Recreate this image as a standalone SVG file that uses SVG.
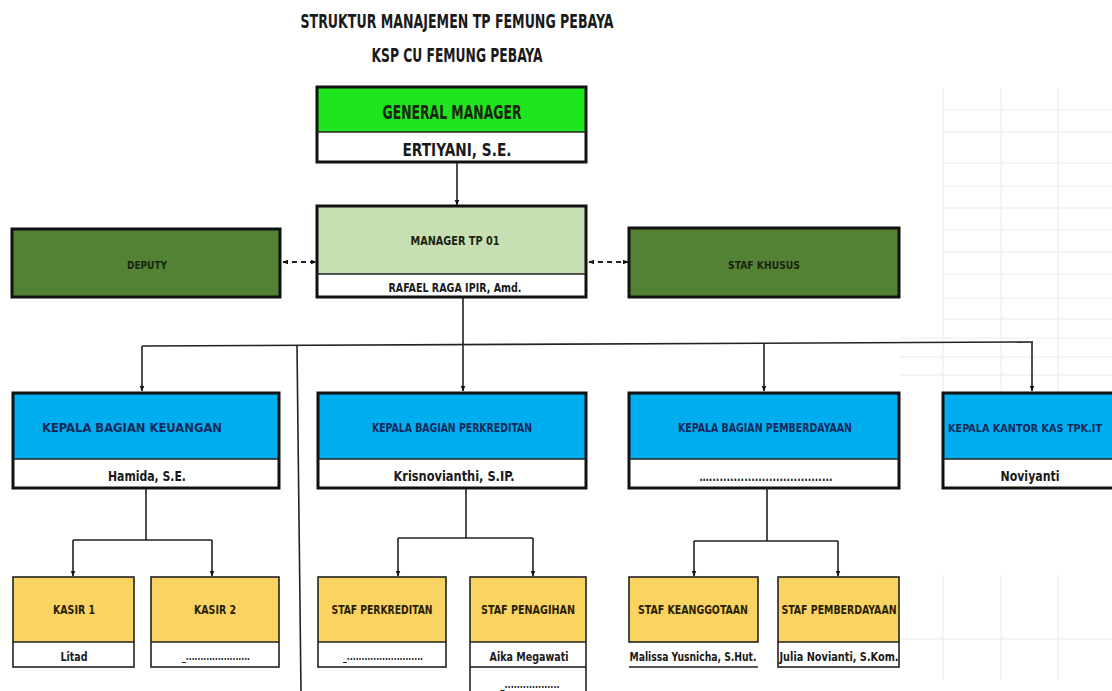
<svg xmlns="http://www.w3.org/2000/svg" width="1112" height="691" viewBox="0 0 1112 691">
<defs>
<marker id="ar" viewBox="0 0 10 10" refX="9" refY="5" markerWidth="6" markerHeight="6" orient="auto-start-reverse" markerUnits="userSpaceOnUse">
<path d="M0,1 L10,5 L0,9 z" fill="#111"/>
</marker>
<style>
text{font-family:"DejaVu Sans Condensed","Liberation Sans Narrow","Liberation Sans",sans-serif;font-weight:bold;text-anchor:middle}
.box{stroke:#111;stroke-width:3}
.thin{stroke:#222;stroke-width:1.6}
.grid{stroke:#ebebeb;stroke-width:1;fill:none}
.gm{fill:#1ee61e}
.mgr{fill:#c6e0b4}
.dg{fill:#548235}
.bl{fill:#00aeef}
.ye{fill:#f9d462}
.wh{fill:#fff}
.tg{fill:#1a2410}
.tb{fill:#14285a}
.ty{fill:#2a1e00}
.tk{fill:#1a1a1a}
.con{stroke:#222;stroke-width:1.6;fill:none}
.dash{stroke:#222;stroke-width:2;fill:none;stroke-dasharray:5 4}
</style>
</defs>
<rect width="1112" height="691" fill="#fff"/>
<g id="grid">
<path class="grid" d="M943,110H1112M943,132H1112M943,163H1112M943,186H1112M943,208H1112M943,230H1112M943,252H1112M943,274H1112M943,298H1112M943,319H1112M900,338H1112M900,357H1112M900,375H1112M943,88V400M1001,88V400M1058,88V400M900,639H1112M943,575V680M1001,575V680M1058,575V680"/>
</g>
<g id="title">
<text x="457" y="28" font-size="20" textLength="313" lengthAdjust="spacingAndGlyphs" class="tk">STRUKTUR MANAJEMEN TP FEMUNG PEBAYA</text>
<text x="457" y="62" font-size="20" textLength="171" lengthAdjust="spacingAndGlyphs" class="tk">KSP CU FEMUNG PEBAYA</text>
</g>
<g id="connectors">
<line class="con" x1="457" y1="162" x2="457" y2="205" marker-end="url(#ar)"/>
<line class="dash" x1="283" y1="262" x2="316" y2="262" marker-start="url(#ar)" marker-end="url(#ar)"/>
<line class="dash" x1="589" y1="262" x2="628" y2="262" marker-start="url(#ar)" marker-end="url(#ar)"/>
<line class="con" x1="463" y1="297" x2="463" y2="391" marker-end="url(#ar)"/>
<line class="con" x1="142" y1="346" x2="1033" y2="342"/>
<line class="con" x1="142" y1="346" x2="142" y2="391" marker-end="url(#ar)"/>
<line class="con" x1="764" y1="343" x2="764" y2="391" marker-end="url(#ar)"/>
<line class="con" x1="1032" y1="342" x2="1032" y2="391" marker-end="url(#ar)"/>
<line class="con" x1="297" y1="346" x2="301" y2="691"/>
<path class="con" d="M146,488V540M73,540H212"/>
<line class="con" x1="73" y1="540" x2="73" y2="576" marker-end="url(#ar)"/>
<line class="con" x1="212" y1="540" x2="212" y2="576" marker-end="url(#ar)"/>
<path class="con" d="M466,488V538M398,538H533"/>
<line class="con" x1="398" y1="538" x2="398" y2="576" marker-end="url(#ar)"/>
<line class="con" x1="533" y1="538" x2="533" y2="576" marker-end="url(#ar)"/>
<path class="con" d="M767,488V541M694,541H838"/>
<line class="con" x1="694" y1="541" x2="694" y2="576" marker-end="url(#ar)"/>
<line class="con" x1="838" y1="541" x2="838" y2="576" marker-end="url(#ar)"/>
</g>
<g id="general-manager">
<rect class="gm" x="317" y="87" width="269" height="45"/>
<rect class="wh" x="317" y="132" width="269" height="30"/>
<rect x="317" y="87" width="269" height="75" fill="none" class="box"/>
<line x1="317" y1="132" x2="586" y2="132" class="thin"/>
<text x="452" y="119" font-size="19" textLength="139" lengthAdjust="spacingAndGlyphs" class="tg">GENERAL MANAGER</text>
<text x="457" y="156" font-size="17" textLength="109" lengthAdjust="spacingAndGlyphs" class="tk">ERTIYANI, S.E.</text>
</g>
<g id="manager-tp01">
<rect class="mgr" x="317" y="206" width="269" height="68"/>
<rect class="wh" x="317" y="274" width="269" height="23"/>
<rect x="317" y="206" width="269" height="91" fill="none" class="box"/>
<line x1="317" y1="274" x2="586" y2="274" class="thin"/>
<text x="455" y="245" font-size="12" textLength="89" lengthAdjust="spacingAndGlyphs" class="tg">MANAGER TP 01</text>
<text x="455" y="292" font-size="12" textLength="133" lengthAdjust="spacingAndGlyphs" class="tk">RAFAEL RAGA IPIR, Amd.</text>
</g>
<g id="deputy">
<rect class="dg box" x="12" y="229" width="268" height="68"/>
<text x="147" y="269" font-size="11" textLength="40" lengthAdjust="spacingAndGlyphs" class="tg">DEPUTY</text>
</g>
<g id="staf-khusus">
<rect class="dg box" x="629" y="228" width="270" height="69"/>
<text x="764" y="269" font-size="11" textLength="72" lengthAdjust="spacingAndGlyphs" class="tg">STAF KHUSUS</text>
</g>
<g id="kabag-keuangan">
<rect class="bl" x="13" y="393" width="266" height="66"/>
<rect class="wh" x="13" y="459" width="266" height="29"/>
<rect x="13" y="393" width="266" height="95" fill="none" class="box"/>
<line x1="13" y1="459" x2="279" y2="459" class="thin"/>
<text x="132" y="432" font-size="12" textLength="180" lengthAdjust="spacingAndGlyphs" class="tb">KEPALA BAGIAN  KEUANGAN</text>
<text x="147" y="481" font-size="14" textLength="78" lengthAdjust="spacingAndGlyphs" class="tk">Hamida, S.E.</text>
</g>
<g id="kabag-perkreditan">
<rect class="bl" x="318" y="393" width="268" height="66"/>
<rect class="wh" x="318" y="459" width="268" height="29"/>
<rect x="318" y="393" width="268" height="95" fill="none" class="box"/>
<line x1="318" y1="459" x2="586" y2="459" class="thin"/>
<text x="452" y="432" font-size="12" textLength="160" lengthAdjust="spacingAndGlyphs" class="tb">KEPALA BAGIAN PERKREDITAN</text>
<text x="454" y="481" font-size="14" textLength="121" lengthAdjust="spacingAndGlyphs" class="tk">Krisnovianthi, S.IP.</text>
</g>
<g id="kabag-pemberdayaan">
<rect class="bl" x="629" y="393" width="270" height="66"/>
<rect class="wh" x="629" y="459" width="270" height="29"/>
<rect x="629" y="393" width="270" height="95" fill="none" class="box"/>
<line x1="629" y1="459" x2="899" y2="459" class="thin"/>
<text x="765" y="432" font-size="12" textLength="174" lengthAdjust="spacingAndGlyphs" class="tb">KEPALA BAGIAN PEMBERDAYAAN</text>
<text x="766" y="481" font-size="12" textLength="133" lengthAdjust="spacingAndGlyphs" class="tk">…...................................</text>
</g>
<g id="kakan-kas">
<rect class="bl" x="943" y="393" width="175" height="66"/>
<rect class="wh" x="943" y="459" width="175" height="29"/>
<rect x="943" y="393" width="175" height="95" fill="none" class="box"/>
<line x1="943" y1="459" x2="1118" y2="459" class="thin"/>
<text x="1025" y="432" font-size="11" textLength="154" lengthAdjust="spacingAndGlyphs" class="tb">KEPALA KANTOR KAS TPK.IT</text>
<text x="1030" y="481" font-size="14" textLength="59" lengthAdjust="spacingAndGlyphs" class="tk">Noviyanti</text>
</g>
<g id="kasir-1">
<rect class="ye" x="13" y="577" width="121" height="65"/>
<rect class="wh" x="13" y="642" width="121" height="25"/>
<rect x="13" y="577" width="121" height="90" fill="none" class="thin"/>
<line x1="13" y1="642" x2="134" y2="642" class="thin"/>
<text x="74" y="614" font-size="12" textLength="42" lengthAdjust="spacingAndGlyphs" class="ty">KASIR 1</text>
<text x="74" y="661" font-size="12" textLength="27" lengthAdjust="spacingAndGlyphs" class="tk">Litad</text>
</g>
<g id="kasir-2">
<rect class="ye" x="151" y="577" width="128" height="65"/>
<rect class="wh" x="151" y="642" width="128" height="25"/>
<rect x="151" y="577" width="128" height="90" fill="none" class="thin"/>
<line x1="151" y1="642" x2="279" y2="642" class="thin"/>
<text x="215" y="614" font-size="12" textLength="42" lengthAdjust="spacingAndGlyphs" class="ty">KASIR 2</text>
<text x="216" y="660" font-size="11" textLength="68" lengthAdjust="spacingAndGlyphs" class="tk">_......................</text>
</g>
<g id="staf-perkreditan">
<rect class="ye" x="318" y="577" width="128" height="65"/>
<rect class="wh" x="318" y="642" width="128" height="25"/>
<rect x="318" y="577" width="128" height="90" fill="none" class="thin"/>
<line x1="318" y1="642" x2="446" y2="642" class="thin"/>
<text x="382" y="614" font-size="12" textLength="101" lengthAdjust="spacingAndGlyphs" class="ty">STAF PERKREDITAN</text>
<text x="383" y="660" font-size="11" textLength="80" lengthAdjust="spacingAndGlyphs" class="tk">_..........................</text>
</g>
<g id="staf-penagihan">
<rect class="ye" x="470" y="577" width="116" height="65"/>
<rect class="wh" x="470" y="642" width="116" height="52"/>
<rect x="470" y="577" width="116" height="90" fill="none" class="thin"/>
<path d="M470,667V694M586,667V694" class="thin"/>
<line x1="470" y1="642" x2="586" y2="642" class="thin"/>
<text x="528" y="614" font-size="12" textLength="94" lengthAdjust="spacingAndGlyphs" class="ty">STAF PENAGIHAN</text>
<text x="529" y="661" font-size="12" textLength="79" lengthAdjust="spacingAndGlyphs" class="tk">Aika Megawati</text>
<text x="530" y="688" font-size="11" textLength="59" lengthAdjust="spacingAndGlyphs" class="tk">_..................</text>
</g>
<g id="staf-keanggotaan">
<rect class="ye" x="629" y="577" width="129" height="65"/>
<rect x="629" y="577" width="129" height="65" fill="none" class="thin"/>
<line x1="629" y1="667" x2="758" y2="667" class="thin"/>
<text x="693" y="614" font-size="12" textLength="110" lengthAdjust="spacingAndGlyphs" class="ty">STAF KEANGGOTAAN</text>
<text x="693" y="661" font-size="12" textLength="127" lengthAdjust="spacingAndGlyphs" class="tk">Malissa Yusnicha, S.Hut.</text>
</g>
<g id="staf-pemberdayaan">
<rect class="ye" x="778" y="577" width="121" height="65"/>
<rect class="wh" x="778" y="642" width="121" height="25"/>
<rect x="778" y="577" width="121" height="90" fill="none" class="thin"/>
<line x1="778" y1="642" x2="899" y2="642" class="thin"/>
<text x="839" y="614" font-size="12" textLength="115" lengthAdjust="spacingAndGlyphs" class="ty">STAF PEMBERDAYAAN</text>
<text x="839" y="661" font-size="12" textLength="119" lengthAdjust="spacingAndGlyphs" class="tk">Julia Novianti, S.Kom.</text>
</g>
</svg>
